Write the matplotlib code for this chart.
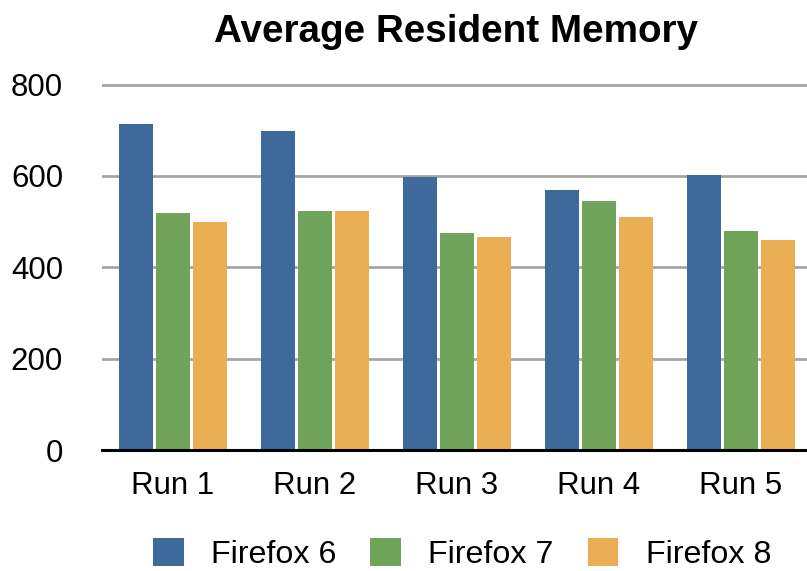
import matplotlib
matplotlib.use("Agg")
import matplotlib.pyplot as plt
import numpy as np

runs = ["Run 1", "Run 2", "Run 3", "Run 4", "Run 5"]
series_names = ["Firefox 6", "Firefox 7", "Firefox 8"]
firefox6 = [714, 699, 598, 570, 603]
firefox7 = [518, 524, 474, 544, 480]
firefox8 = [500, 524, 467, 511, 460]
y_ticks = [0, 200, 400, 600, 800]

COLORS = ["#3e6a9b", "#70a45a", "#ebae54"]

plt.rcParams["font.family"] = ["Liberation Sans", "DejaVu Sans"]

W, H = 807, 571
fig = plt.figure(figsize=(W / 100, H / 100), dpi=100)

# axes spans 102..812 px horizontally, zero line at y=450
left, right = 102 / W, 812 / W
bottom = (H - 450) / H
px_per_unit = 365.5 / 800
ymax = 820
ax = fig.add_axes([left, bottom, right - left, ymax * px_per_unit / H])

x = np.arange(len(runs))
width = 0.245
offset = 0.26
for i, (vals, name) in enumerate(zip([firefox6, firefox7, firefox8], series_names)):
    ax.bar(x + (i - 1) * offset, vals, width, color=COLORS[i], label=name, zorder=3)

ax.set_xlim(-0.5, len(runs) - 0.5)
ax.set_ylim(0, ymax)
ax.set_yticks(y_ticks)
ax.set_xticks(x)
ax.set_xticklabels(runs)
ax.tick_params(axis="both", length=0, labelsize=22.5, colors="black")
ax.tick_params(axis="x", pad=15)
ax.tick_params(axis="y", pad=28)

for sp in ["top", "right", "left"]:
    ax.spines[sp].set_visible(False)
ax.spines["bottom"].set_linewidth(2.2)
ax.spines["bottom"].set_color("black")
ax.spines["bottom"].set_zorder(4)

ax.yaxis.grid(True, color="#a6a6a6", linewidth=2, zorder=0)
ax.set_axisbelow(True)

fig.text(456 / W, 1 - 42 / H, "Average Resident Memory", ha="center", va="baseline",
         fontsize=27.8, fontweight="bold")

handles, labels = ax.get_legend_handles_labels()
fig.legend(handles, labels, loc="center", bbox_to_anchor=(462 / W, 1 - 554 / H),
           ncol=3, frameon=False, fontsize=23.2, handlelength=0.95, handleheight=0.95,
           handletextpad=0.85, columnspacing=1.05, borderpad=0.2)

fig.savefig("out.png", dpi=100)
